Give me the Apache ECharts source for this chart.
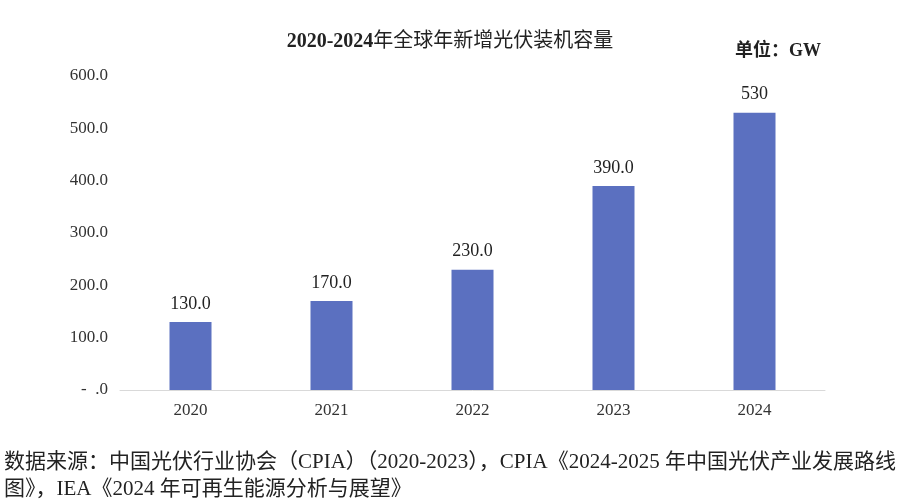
<!DOCTYPE html>
<html><head><meta charset="utf-8">
<script src="https://cdn.jsdelivr.net/npm/echarts@6/dist/echarts.min.js"></script>
<style>html,body{margin:0;padding:0;background:#fff}#c{width:900px;height:501px}</style>
</head><body><div id="c"></div>
<script>
const categories = ['2020', '2021', '2022', '2023', '2024'];
const values = [130, 170, 230, 390, 530];
const valueLabels = ['130.0', '170.0', '230.0', '390.0', '530'];
const titleYears = '2020-2024';
const titleRest = '年全球年新增光伏装机容量';
const unitText = '单位：GW';
const sourceText = '数据来源：中国光伏行业协会（CPIA）（2020-2023），CPIA《2024-2025 年中国光伏产业发展路线\n图》，IEA《2024 年可再生能源分析与展望》';

const serif = '"Liberation Serif", "Noto Sans CJK SC", serif';
const chart = echarts.init(document.getElementById('c'));
chart.setOption({
  backgroundColor: '#fff',
  animation: false,
  title: {
    text: '{a|' + titleYears + '}{b|' + titleRest + '}', left: 'center', top: 27,
    textStyle: {
      rich: {
        a: { fontFamily: serif, fontSize: 20, fontWeight: 'bold', color: '#222' },
        b: { fontFamily: serif, fontSize: 20, fontWeight: 'normal', color: '#222' }
      }
    }
  },
  graphic: [
    { type: 'text', left: 735, top: 42, style: { text: unitText, font: 'bold 18px ' + serif, fill: '#222' } },
    { type: 'text', left: 4, top: 449, style: { text: sourceText, font: '21px ' + serif, fill: '#222', lineHeight: 27 } }
  ],
  grid: { left: 120, right: 75, top: 76, bottom: 111 },
  xAxis: {
    type: 'category', data: categories,
    axisLine: { lineStyle: { color: '#d9d9d9' } },
    axisTick: { show: false },
    axisLabel: { color: '#333', fontFamily: serif, fontSize: 17, margin: 12 }
  },
  yAxis: {
    type: 'value', min: 0, max: 600, interval: 100,
    splitLine: { show: false },
    axisLine: { show: false }, axisTick: { show: false },
    axisLabel: {
      color: '#333', fontFamily: serif, fontSize: 17, margin: 12,
      formatter: v => v === 0 ? '-  .0' : v.toFixed(1)
    }
  },
  series: [{
    type: 'bar', data: values, barWidth: 42,
    itemStyle: { color: '#5b70c0' },
    label: {
      show: true, position: 'top', distance: 9,
      color: '#222', fontFamily: serif, fontSize: 18,
      formatter: p => valueLabels[p.dataIndex]
    }
  }]
});
</script></body></html>
